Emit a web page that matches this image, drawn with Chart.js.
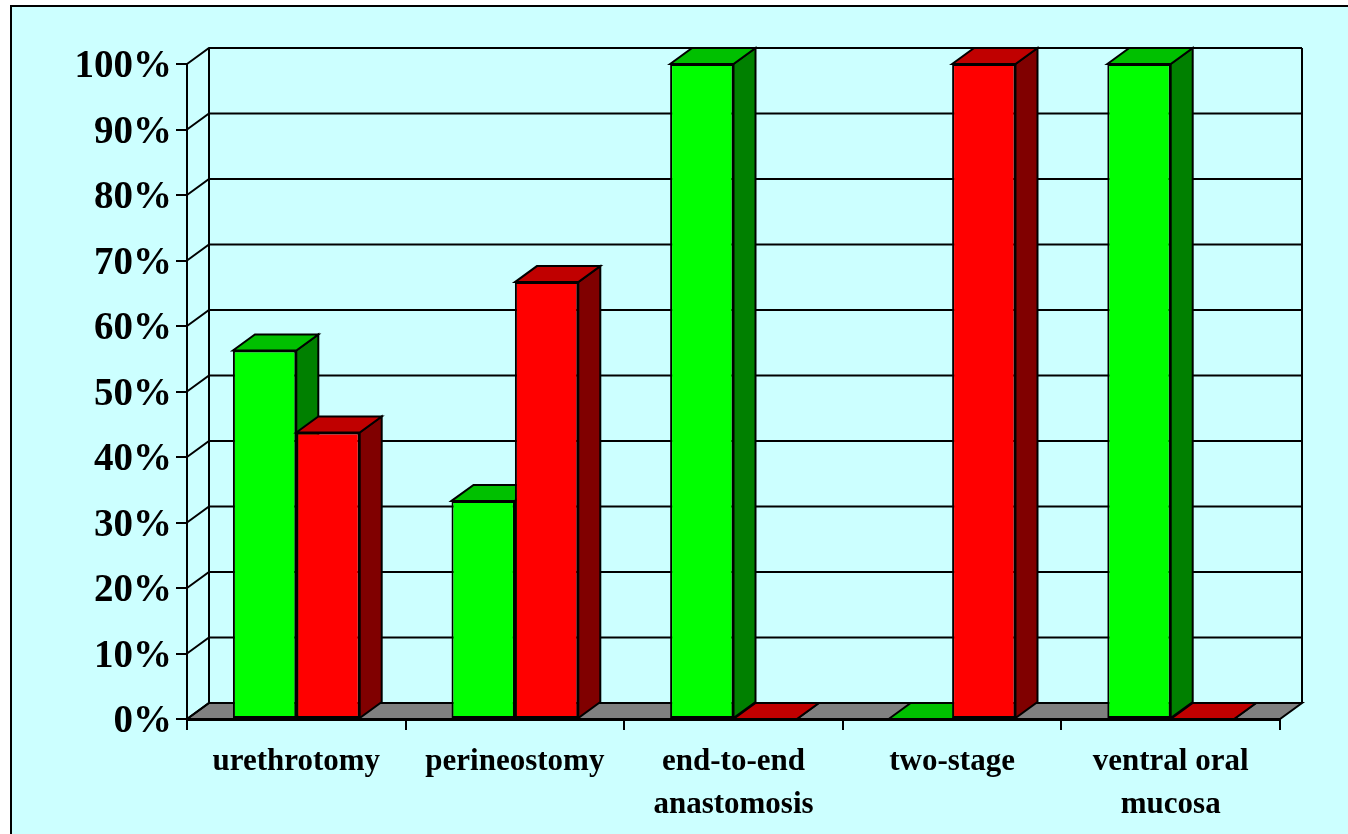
<!DOCTYPE html>
<html>
<head>
<meta charset="utf-8">
<title>chart</title>
<style>
  html, body { margin: 0; padding: 0; background: #fff; }
  canvas { display: block; }
</style>
<script src="https://cdn.jsdelivr.net/npm/chart.js@4/dist/chart.umd.min.js"></script>
</head>
<body>
<canvas id="myChart" width="1348" height="834"></canvas>
<script>
const categories = ['urethrotomy', 'perineostomy', ['end-to-end', 'anastomosis'], 'two-stage', ['ventral oral', 'mucosa']];
const greenValues = [56.25, 33.3, 100, 0, 100];
const redValues = [43.75, 66.7, 0, 100, 0];
const tickValues = [0, 10, 20, 30, 40, 50, 60, 70, 80, 90, 100];

// how far the fake 3D depth goes
const depthX = 22;
const depthY = 16;
const bg = '#CCFFFF';
const faces = [
  { side: '#008000', top: '#00C000' },
  { side: '#800000', top: '#C00000' }
];

function poly(ctx, pts, fill) {
  ctx.beginPath();
  pts.forEach((p, i) => i ? ctx.lineTo(p[0], p[1]) : ctx.moveTo(p[0], p[1]));
  ctx.closePath();
  if (fill) {
    ctx.fillStyle = fill;
    ctx.fill();
  }
  ctx.stroke();
}

const frame3d = {
  id: 'frame3d',
  beforeDraw(chart) {
    const ctx = chart.ctx;
    ctx.save();
    ctx.fillStyle = '#fff';
    ctx.fillRect(0, 0, chart.width, chart.height);
    ctx.fillStyle = bg;
    ctx.strokeStyle = '#000';
    ctx.lineWidth = 2;
    ctx.fillRect(11, 6, chart.width - 11, chart.height - 6);
    ctx.beginPath();
    ctx.moveTo(11, chart.height);
    ctx.lineTo(11, 6);
    ctx.lineTo(chart.width, 6);
    ctx.stroke();
    ctx.restore();
  },
  beforeDatasetsDraw(chart) {
    const ctx = chart.ctx;
    const a = chart.chartArea;
    const y = chart.scales.y;
    ctx.save();
    ctx.strokeStyle = '#000';
    ctx.lineWidth = 2;
    // floor
    poly(ctx, [[a.left, a.bottom], [a.left + depthX, a.bottom - depthY], [a.right + depthX, a.bottom - depthY], [a.right, a.bottom]], '#808080');
    // gridlines on side wall and back wall
    tickValues.forEach(v => {
      const py = y.getPixelForValue(v);
      ctx.beginPath();
      ctx.moveTo(a.left, py);
      ctx.lineTo(a.left + depthX, py - depthY);
      ctx.lineTo(a.right + depthX, py - depthY);
      ctx.stroke();
    });
    // wall uprights
    ctx.beginPath();
    ctx.moveTo(a.left + depthX, a.top - depthY);
    ctx.lineTo(a.left + depthX, a.bottom - depthY);
    ctx.moveTo(a.right + depthX, a.top - depthY);
    ctx.lineTo(a.right + depthX, a.bottom - depthY);
    ctx.stroke();

    // bars: side and top faces first, then the library's own front face
    chart.data.datasets.forEach((ds, i) => {
      chart.getDatasetMeta(i).data.forEach(bar => {
        const p = bar.getProps(['x', 'y', 'base', 'width']);
        const l = p.x - p.width / 2;
        const r = p.x + p.width / 2;
        poly(ctx, [[r, p.y], [r + depthX, p.y - depthY], [r + depthX, p.base - depthY], [r, p.base]], faces[i].side);
        poly(ctx, [[l, p.y], [l + depthX, p.y - depthY], [r + depthX, p.y - depthY], [r, p.y]], faces[i].top);
        if (p.base - p.y > 0) bar.draw(ctx, a);
      });
    });
    ctx.restore();
  },
  // the bars are already painted above, in the right stacking order
  beforeDatasetDraw() {
    return false;
  }
};

const data = {
  labels: categories,
  datasets: [
    { label: 'green', data: greenValues, backgroundColor: '#00FF00', borderColor: '#000', borderWidth: 2, borderSkipped: false },
    { label: 'red', data: redValues, backgroundColor: '#FF0000', borderColor: '#000', borderWidth: 2, borderSkipped: false }
  ]
};

const config = {
  type: 'bar',
  data: data,
  plugins: [frame3d],
  options: {
    responsive: false,
    animation: false,
    layout: { padding: { top: 64, right: 68, left: 0, bottom: 0 } },
    categoryPercentage: 0.58,
    barPercentage: 1,
    plugins: { legend: { display: false }, title: { display: false }, tooltip: { enabled: false } },
    scales: {
      x: {
        afterFit: s => { s.height = 115; },
        grid: { offset: true, drawOnChartArea: false, color: '#000', lineWidth: 2, tickLength: 11 },
        border: { color: '#000', width: 3 },
        ticks: {
          color: '#000',
          padding: 10,
          maxRotation: 0,
          autoSkip: false,
          font: { family: '"Liberation Serif"', weight: 'bold', size: 31, lineHeight: 1.39 }
        }
      },
      y: {
        min: 0,
        max: 100,
        afterFit: s => { s.width = 187; },
        grid: { drawOnChartArea: false, color: '#000', lineWidth: 2, tickLength: 11 },
        border: { color: '#000', width: 2 },
        ticks: {
          color: '#000',
          stepSize: 10,
          padding: 4,
          labelOffset: 3,
          autoSkip: false,
          callback: v => v + '%',
          font: { family: '"Liberation Serif"', weight: 'bold', size: 39 }
        }
      }
    }
  }
};

const ctx = document.getElementById('myChart').getContext('2d');
const myChart = new Chart(ctx, config);
</script>
</body>
</html>
